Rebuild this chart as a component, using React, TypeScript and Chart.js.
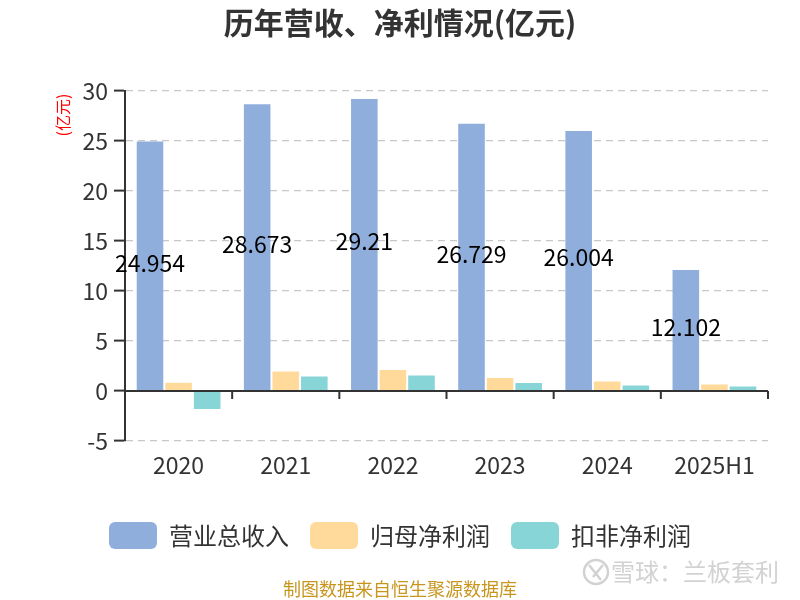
import React, { useEffect, useRef } from "react";
import { Chart, registerables } from "chart.js";

Chart.register(...registerables);

const categories = ["2020", "2021", "2022", "2023", "2024", "2025H1"];
const revenue = [24.954, 28.673, 29.21, 26.729, 26.004, 12.102];
const netProfit = [0.82, 1.95, 2.1, 1.3, 0.95, 0.65];
const deductedProfit = [-1.8, 1.45, 1.55, 0.8, 0.55, 0.45];
const seriesNames = ["营业总收入", "归母净利润", "扣非净利润"];
const yTicks = [-5, 0, 5, 10, 15, 20, 25, 30];

const FONT = "'Noto Sans CJK SC', 'Noto Sans', sans-serif";

const extrasPlugin = {
  id: "extras",
  afterDatasetsDraw(chart: any) {
    const { ctx, chartArea } = chart;
    const y = chart.scales.y;
    const y0 = y.getPixelForValue(0);
    ctx.save();
    ctx.strokeStyle = "#333";
    ctx.lineWidth = 2;
    ctx.setLineDash([]);
    ctx.beginPath();
    ctx.moveTo(chartArea.left, y0);
    ctx.lineTo(chartArea.right, y0);
    ctx.stroke();
    const n = categories.length;
    const w = (chartArea.right - chartArea.left) / n;
    for (let i = 0; i <= n; i++) {
      const x = chartArea.left + i * w;
      ctx.beginPath();
      ctx.moveTo(x, y0);
      ctx.lineTo(x, y0 + 8);
      ctx.stroke();
    }
    const meta = chart.getDatasetMeta(0);
    ctx.fillStyle = "#000";
    ctx.font = `23px ${FONT}`;
    ctx.textAlign = "center";
    ctx.textBaseline = "middle";
    meta.data.forEach((el: any, i: number) => {
      const cy = (el.y + el.base) / 2 - 3;
      ctx.fillText(String(revenue[i]), el.x, cy);
    });
    ctx.restore();
  },
  afterDraw(chart: any) {
    const { ctx } = chart;
    ctx.save();
    ctx.fillStyle = "#333";
    ctx.font = `bold 30px ${FONT}`;
    ctx.textAlign = "center";
    ctx.textBaseline = "middle";
    ctx.fillText("历年营收、净利情况(亿元)", 400, 23);
    ctx.restore();

    ctx.save();
    ctx.translate(63, 115);
    ctx.rotate(-Math.PI / 2);
    ctx.fillStyle = "#ff0000";
    ctx.font = `16px ${FONT}`;
    ctx.textAlign = "center";
    ctx.textBaseline = "middle";
    ctx.fillText("(亿元)", 0, 0);
    ctx.restore();

    ctx.save();
    ctx.fillStyle = "#C8961E";
    ctx.font = `18px ${FONT}`;
    ctx.textAlign = "center";
    ctx.textBaseline = "middle";
    ctx.fillText("制图数据来自恒生聚源数据库", 400, 589);

    ctx.fillStyle = "#d2d2d2";
    ctx.font = `24px ${FONT}`;
    ctx.textAlign = "left";
    ctx.fillText("雪球：兰板套利", 611, 572);
    ctx.strokeStyle = "#d2d2d2";
    ctx.lineWidth = 2.5;
    ctx.beginPath();
    ctx.arc(596, 572, 12, 0, Math.PI * 2);
    ctx.stroke();
    ctx.beginPath();
    ctx.moveTo(589, 565);
    ctx.lineTo(601, 580);
    ctx.moveTo(603, 565);
    ctx.lineTo(593, 577);
    ctx.stroke();
    ctx.restore();
  },
};

export default function App() {
  const ref = useRef<HTMLCanvasElement>(null);
  useEffect(() => {
    if (!ref.current) return;
    const chart = new Chart(ref.current, {
      type: "bar",
      data: {
        labels: categories,
        datasets: [
          { label: seriesNames[0], data: revenue, backgroundColor: "#8FAEDB", borderWidth: 0 },
          { label: seriesNames[1], data: netProfit, backgroundColor: "#FFDA9B", borderWidth: 0 },
          { label: seriesNames[2], data: deductedProfit, backgroundColor: "#88D5D8", borderWidth: 0 },
        ],
      },
      options: {
        responsive: false,
        animation: false,
        datasets: { bar: { categoryPercentage: 0.8, barPercentage: 0.93 } },
        layout: { padding: { top: 91, left: 0, right: 0, bottom: 41 } },
        plugins: {
          tooltip: { enabled: false },
          title: { display: false },
          legend: {
            position: "bottom",
            labels: {
              boxWidth: 48,
              boxHeight: 27,
              useBorderRadius: true,
              borderRadius: 6,
              padding: 21,
              color: "#333",
              font: { family: FONT, size: 24 },
            },
          },
        },
        scales: {
          x: {
            grid: { display: false, drawTicks: false },
            border: { display: false },
            ticks: { color: "#333", font: { family: FONT, size: 23 }, padding: 10 },
            afterFit: (s: any) => { s.height = 60; },
          },
          y: {
            min: -5,
            max: 30,
            afterBuildTicks: (s: any) => { s.ticks = yTicks.map((v) => ({ value: v })); },
            grid: {
              color: "#c8c8c8",
              lineWidth: 1.2,
              tickColor: "#333",
              tickLength: 11,
              tickWidth: 2,
              tickBorderDash: [],
            },
            border: { display: true, color: "#333", width: 2, dash: [7, 5] },
            ticks: { color: "#333", font: { family: FONT, size: 23 }, padding: 6 },
            afterFit: (s: any) => { s.width = 125; },
          },
          yRight: {
            position: "right",
            display: true,
            grid: { display: false, drawTicks: false },
            border: { display: false },
            ticks: { display: false },
            afterFit: (s: any) => { s.width = 32; },
          },
        },
      },
      plugins: [extrasPlugin],
    });
    return () => chart.destroy();
  }, []);
  return (
    <div style={{ position: "absolute", left: 0, top: 0, width: 800, height: 600 }}>
      <canvas ref={ref} width={800} height={600} />
    </div>
  );
}
